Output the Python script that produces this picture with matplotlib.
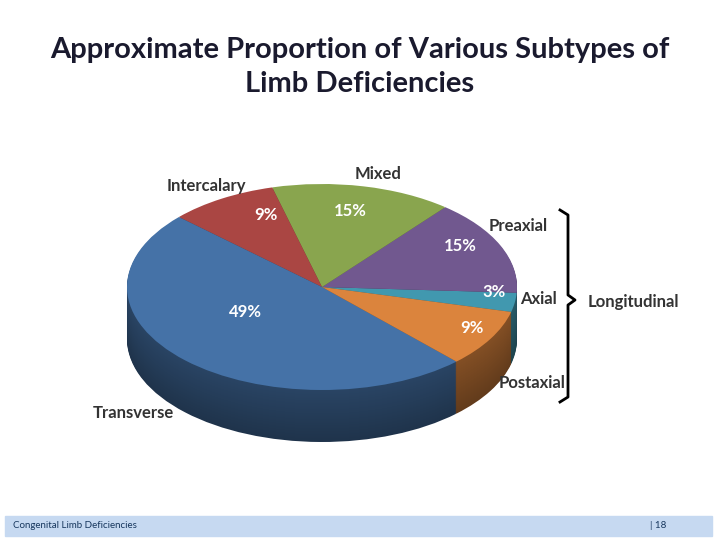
import matplotlib
matplotlib.use("Agg")
import matplotlib.pyplot as plt
import numpy as np
from matplotlib.transforms import Affine2D
from matplotlib.colors import to_rgb

categories = ["Axial", "Preaxial", "Mixed", "Intercalary", "Transverse", "Postaxial"]
values = [3, 15, 15, 9, 49, 9]
colors = ["#4198AF", "#71588F", "#89A54E", "#AA4643", "#4572A7", "#DB843D"]
name_pos = {"Axial": (538, 299), "Preaxial": (518, 226), "Mixed": (378, 174),
            "Intercalary": (206, 186), "Transverse": (133, 413), "Postaxial": (532, 383)}
pct_pos = {"Axial": (494, 292), "Preaxial": (460, 246), "Mixed": (350, 211),
           "Intercalary": (266, 215), "Transverse": (245, 312), "Postaxial": (472, 328)}
title = "Approximate Proportion of Various Subtypes of\nLimb Deficiencies"
FONT = "Lato"

fig = plt.figure(figsize=(7.2, 5.4), dpi=100)
ax = fig.add_axes([0, 0, 1, 1])

cx, cy, rx, ry, depth = 322, 287, 195, 103, 52
start = -14

def draw(yoff, cols, z):
    wedges, _ = ax.pie(values, colors=cols, startangle=start, radius=1,
                       center=(0, 0), wedgeprops=dict(linewidth=0))
    for w in wedges:
        w.set_transform(Affine2D().scale(rx, -ry).translate(cx, cy + yoff) + ax.transData)
        w.set_zorder(z)
    return wedges

for i, d in enumerate(range(depth, 0, -1)):
    shade = 0.45 + 0.15 * (1 - d / depth)
    draw(d, [tuple(c * shade for c in to_rgb(col)) for col in colors], 1 + i * 0.001)
draw(0, colors, 3)
ax.set_xlim(0, 720); ax.set_ylim(540, 0); ax.set_aspect("auto"); ax.axis("off")

for name, v in zip(categories, values):
    ax.text(*pct_pos[name], f"{v}%", color="white", fontsize=12, fontweight="bold",
            family=FONT, ha="center", va="center", zorder=5)
    ax.text(*name_pos[name], name, color="#333333", fontsize=12, fontweight="bold",
            family=FONT, ha="center", va="center", zorder=5)

ax.plot([560, 568, 568, 575, 568, 568, 560], [210, 215, 295, 300, 305, 397, 402],
        color="black", lw=2, zorder=5)
ax.text(588, 302, "Longitudinal", fontsize=12, fontweight="bold", family=FONT,
        color="#333333", va="center", ha="left")

ax.text(360, 67, title, fontsize=21, fontweight="bold", family=FONT,
        color="#1a1a2e", ha="center", va="center", linespacing=1.35)

ax.add_patch(plt.Rectangle((5, 516), 707, 20, color="#C6D9F1", zorder=4))
ax.text(13, 526, "Congenital Limb Deficiencies", fontsize=7, family=FONT, va="center", color="#17375E", zorder=5)
ax.text(650, 526, "| 18", fontsize=7, family=FONT, va="center", color="#17375E", zorder=5)

fig.savefig("out.png", dpi=100)
